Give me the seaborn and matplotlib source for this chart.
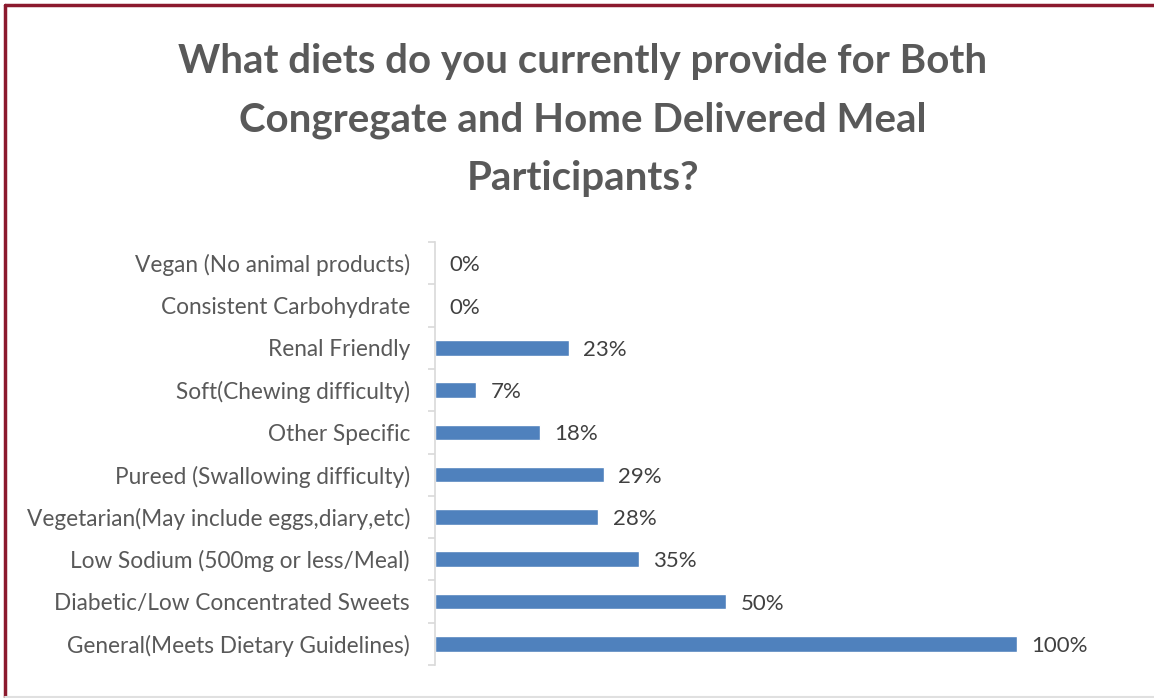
import matplotlib
matplotlib.use("Agg")
import matplotlib.pyplot as plt
import seaborn as sns
import pandas as pd
import numpy as np
from matplotlib.lines import Line2D
from matplotlib.ticker import FixedLocator

categories = [
    "Vegan (No animal products)",
    "Consistent Carbohydrate",
    "Renal Friendly",
    "Soft(Chewing difficulty)",
    "Other Specific",
    "Pureed (Swallowing difficulty)",
    "Vegetarian(May include eggs,diary,etc)",
    "Low Sodium (500mg or less/Meal)",
    "Diabetic/Low Concentrated Sweets",
    "General(Meets Dietary Guidelines)",
]
values = [0, 0, 23, 7, 18, 29, 28, 35, 50, 100]
value_labels = ["0%", "0%", "23%", "7%", "18%", "29%", "28%", "35%", "50%", "100%"]
title = "What diets do you currently provide for Both\nCongregate and Home Delivered Meal\nParticipants?"

sns.set_theme(style="white")
plt.rcParams["font.family"] = ["Lato", "DejaVu Sans"]

df = pd.DataFrame({"cat": categories, "val": values})

fig = plt.figure(figsize=(11.54, 6.98), dpi=100)
ax = fig.add_axes([435/1154, 1-665/698, (1100-435)/1154, (665-242)/698])

sns.barplot(data=df, y="cat", x="val", order=categories, color="#4F81BD",
            width=0.37, ax=ax, orient="h", saturation=1)

ax.set_xlim(0, (1100-435)/582*100)
ax.set_ylim(len(categories)-0.5, -0.5)
ax.set_xlabel("")
ax.set_ylabel("")
ax.set_xticks([])

for i, (v, lab) in enumerate(zip(values, value_labels)):
    ax.text(v + 2.5, i + 0.05, lab, va="center", ha="left", fontsize=16, color="#404040")

for s in ["top", "right", "bottom"]:
    ax.spines[s].set_visible(False)
ax.spines["left"].set_color("#D9D9D9")
ax.spines["left"].set_linewidth(1.2)

ax.tick_params(axis="y", which="major", length=0, pad=18, labelsize=16.3, labelcolor="#595959")
ax.yaxis.set_minor_locator(FixedLocator(np.arange(-0.5, len(categories), 1.0)))
ax.tick_params(axis="y", which="minor", length=5, width=1.2, color="#D9D9D9", left=True)

fig.text(583/1154, 1-120/698, title, ha="center", va="center", fontsize=29,
         fontweight="bold", color="#595959", linespacing=1.7)

# figure border
fig.add_artist(Line2D([5/1154, 1], [1-5/698, 1-5/698], transform=fig.transFigure,
                      color="#8B1A2E", lw=2.5))
fig.add_artist(Line2D([5/1154, 5/1154], [1-5/698, 1-697/698], transform=fig.transFigure,
                      color="#8B1A2E", lw=2.5))
fig.add_artist(Line2D([5/1154, 1], [1-697/698, 1-697/698], transform=fig.transFigure,
                      color="#E0E0E0", lw=1.5))

fig.savefig("out.png", dpi=100)
